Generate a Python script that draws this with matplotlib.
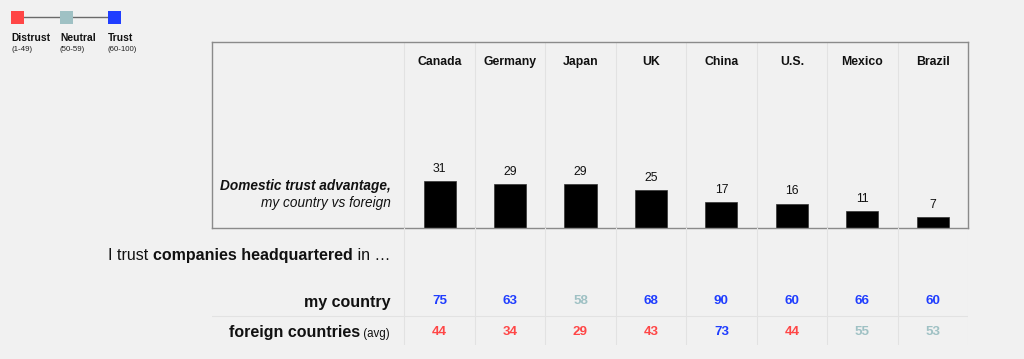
import matplotlib
matplotlib.use("Agg")
import matplotlib.pyplot as plt
from matplotlib.patches import Rectangle
from matplotlib.lines import Line2D

plt.rcParams['font.family'] = ['Liberation Sans', 'DejaVu Sans']

# ---- data ----
countries = ["Canada", "Germany", "Japan", "UK", "China", "U.S.", "Mexico", "Brazil"]
advantage = [31, 29, 29, 25, 17, 16, 11, 7]
my_country = [75, 63, 58, 68, 90, 60, 66, 60]
foreign = [44, 34, 29, 43, 73, 44, 55, 53]
legend_labels = ["Distrust", "Neutral", "Trust"]
legend_ranges = ["(1-49)", "(50-59)", "(60-100)"]

RED = "#ff4646"
TEAL = "#9fc1c4"
BLUE = "#1f3dff"
BG = "#f1f1f1"
GRID = "#e2e2e2"
legend_colors = [RED, TEAL, BLUE]


def trust_color(v):
    if v < 50:
        return RED
    if v < 60:
        return TEAL
    return BLUE


W, H = 1024, 359
fig = plt.figure(figsize=(W / 100, H / 100), dpi=100, facecolor=BG)


def fx(x):
    return x / W


def fy(y):
    return 1 - y / H


XL, XR = -3.23, 7.5
left_px, right_px = 212, 968

# bar axes
ax = fig.add_axes([fx(left_px), fy(228), fx(right_px) - fx(left_px), fy(42) - fy(228)])
ax.set_facecolor(BG)
ax.set_xlim(XL, XR)
ax.set_ylim(0, 122.7)
for s in ax.spines.values():
    s.set_color("#8a8a8a")
    s.set_linewidth(1.0)
ax.set_xticks([])
ax.set_yticks([])
xs = list(range(len(countries)))
for i in range(len(countries) + 1):
    ax.axvline(i - 0.5, color=GRID, lw=0.8, zorder=0)
bars = ax.bar(xs, advantage, width=0.455, color="black", edgecolor="#333333", lw=0.5, zorder=2)
for x, v in zip(xs, advantage):
    ax.annotate(str(v), (x, v), xytext=(0, 4.5), textcoords="offset points",
                ha="center", va="bottom", fontsize=8.8, color="#111111")
for x, c in zip(xs, countries):
    ax.text(x, 122.7 - 20 / 1.516, c, ha="center", va="center", fontsize=8.8,
            fontweight="bold", color="#111111")

# table axes
tb = fig.add_axes([fx(left_px), fy(345), fx(right_px) - fx(left_px), fy(228) - fy(345)])
tb.set_facecolor("none")
tb.set_xlim(XL, XR)
tb.set_ylim(345, 228)
tb.axis("off")
for i in range(len(countries) + 1):
    tb.plot([i - 0.5, i - 0.5], [228, 345], color=GRID, lw=0.8, zorder=0)
tb.plot([XL, XR], [316, 316], color=GRID, lw=0.8, zorder=0)
for x, v in zip(xs, my_country):
    tb.text(x, 301, str(v), ha="center", va="center", fontsize=9.6, fontweight="bold",
            color=trust_color(v))
for x, v in zip(xs, foreign):
    tb.text(x, 332, str(v), ha="center", va="center", fontsize=9.6, fontweight="bold",
            color=trust_color(v))

renderer = fig.canvas.get_renderer()


def rich_right(x_px, base_px, parts):
    x = x_px
    for txt, size, weight, style in reversed(parts):
        t = fig.text(fx(x), fy(base_px), txt, ha="right", va="baseline", fontsize=size,
                     fontweight=weight, fontstyle=style, color="#111111")
        bb = t.get_window_extent(renderer=renderer)
        x -= bb.width


rich_right(390, 260, [("I trust ", 11.5, "normal", "normal"),
                      ("companies headquartered", 11.5, "bold", "normal"),
                      (" in …", 11.5, "normal", "normal")])
rich_right(390, 307, [("my country", 11.5, "bold", "normal")])
rich_right(390, 337.5, [("foreign countries", 11.5, "bold", "normal"),
                        (" (avg)", 8.3, "normal", "normal")])
fig.text(fx(391), fy(186), "Domestic trust advantage,", ha="right", va="center",
         fontsize=9.8, fontweight="bold", fontstyle="italic", color="#111111")
fig.text(fx(391), fy(203), "my country vs foreign", ha="right", va="center",
         fontsize=9.8, fontstyle="italic", color="#111111")

# legend
lg = fig.add_axes([0, 0, 1, 1])
lg.set_xlim(0, W)
lg.set_ylim(H, 0)
lg.axis("off")
lx = [11, 60, 108]
lg.add_line(Line2D([lx[0] + 6.5, lx[2] + 6.5], [16.8, 16.8], color="#6a6a6a", lw=1.0, zorder=1))
for x0, c, lab, rng in zip(lx, legend_colors, legend_labels, legend_ranges):
    lg.add_patch(Rectangle((x0, 10.5), 13, 13, facecolor=c, edgecolor="none", zorder=2))
    lg.text(x0, 38, lab, ha="left", va="center", fontsize=7.4, fontweight="bold", color="#111111")
    lg.text(x0, 49.5, rng, ha="left", va="center", fontsize=5.7, color="#222222")

fig.savefig("out.png", dpi=100, facecolor=BG)
